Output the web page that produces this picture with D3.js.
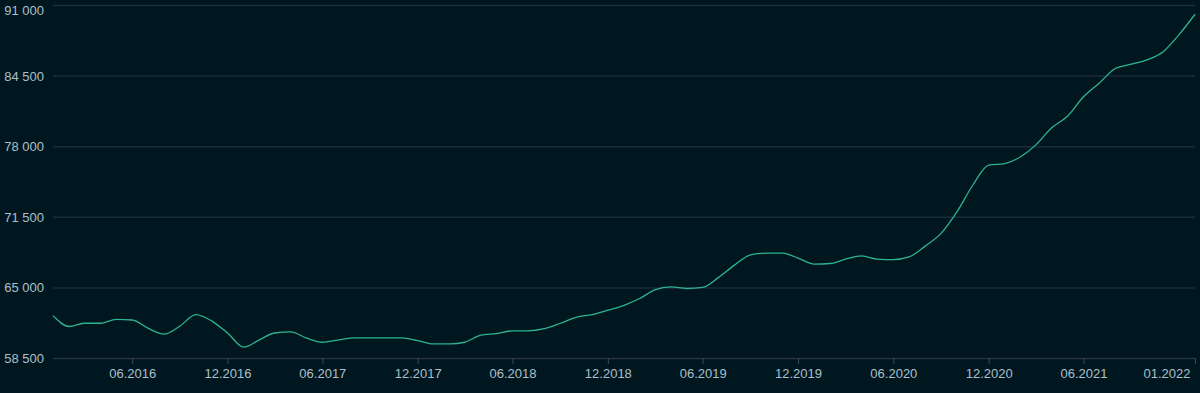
<!DOCTYPE html>
<meta charset="utf-8" />
<script src="https://d3js.org/d3.v7.js"></script>
<style>
  body { margin: 0; background: #011720; }
  svg { display: block; }
  .axis text { font-family: "Liberation Sans", Arial, sans-serif; font-size: 13px; fill: #a9c0cd; }
</style>
<div id="chart"></div>
<script>
  // monthly values, Jan 2016 .. Jan 2022
  const startMonth = "2016-01";
  const values = [
    62400, 61400, 61700, 61700, 62050, 62000, 61250, 60700, 61450, 62500, 61900, 60800,
    59500, 60200, 60800, 60900, 60350, 59950, 60150, 60350, 60350, 60350, 60350, 60100,
    59800, 59800, 59950, 60600, 60750, 61000, 61000, 61200, 61700, 62250, 62500, 62900,
    63350, 64000, 64780, 65050, 64900, 65000, 65900, 67050, 68000, 68150, 68150, 67700,
    67150, 67200, 67600, 67900, 67600, 67550, 67800, 68800, 70000, 71950, 74450, 76250,
    76400, 77050, 78100, 79700, 80750, 82550, 83800, 85150, 85550, 85950, 86700, 88250,
    90150
  ];
  const yTicks = [58500, 65000, 71500, 78000, 84500, 91000];
  const xTickLabels = ["06.2016", "12.2016", "06.2017", "12.2017", "06.2018", "12.2018",
    "06.2019", "12.2019", "06.2020", "12.2020", "06.2021", "01.2022"];

  const W = 1200, H = 393;
  const margin = { top: 5, right: 5, bottom: 35, left: 53 };

  const parseMonth = d3.timeParse("%Y-%m");
  const parseTick = d3.timeParse("%m.%Y");
  const t0 = parseMonth(startMonth);
  const data = values.map((v, i) => ({ date: d3.timeMonth.offset(t0, i), value: v }));

  const x = d3.scaleTime()
    .domain(d3.extent(data, d => d.date))
    .range([margin.left, W - margin.right]);
  const y = d3.scaleLinear()
    .domain([58500, 91000])
    .range([H - margin.bottom, margin.top]);

  const fmt = d3.formatLocale({ decimal: ".", thousands: " ", grouping: [3], currency: ["", ""] }).format(",d");

  const svg = d3.select("#chart").append("svg")
    .attr("width", W)
    .attr("height", H);

  svg.append("rect").attr("width", W).attr("height", H).attr("fill", "#011720");

  // y gridlines + labels
  const yAxis = svg.append("g")
    .attr("class", "axis")
    .attr("transform", `translate(${margin.left},0)`)
    .call(d3.axisLeft(y).tickValues(yTicks).tickFormat(fmt)
      .tickSize(-(W - margin.left - margin.right)).tickPadding(9));
  yAxis.select(".domain").remove();
  yAxis.selectAll("line").attr("stroke", "#1d2c3a").attr("stroke-width", 1.5);
  yAxis.selectAll("text").attr("dy", "0.35em");
  // top label pushed down so it stays inside the frame
  yAxis.selectAll(".tick text").filter(d => d === 91000).attr("y", 5);

  // x axis
  const xAxis = svg.append("g")
    .attr("class", "axis")
    .attr("transform", `translate(0,${H - margin.bottom})`)
    .call(d3.axisBottom(x).tickValues(xTickLabels.map(parseTick))
      .tickFormat(d3.timeFormat("%m.%Y")).tickSize(6).tickSizeOuter(0).tickPadding(5));
  xAxis.select(".domain").attr("stroke", "#24333f");
  xAxis.selectAll("line").attr("stroke", "#3a4a57");
  xAxis.selectAll(".tick:last-of-type text").attr("text-anchor", "end").attr("dx", "-5");

  const line = d3.line()
    .x(d => x(d.date))
    .y(d => y(d.value))
    .curve(d3.curveMonotoneX);

  svg.append("path")
    .datum(data)
    .attr("fill", "none")
    .attr("stroke", "#2db392")
    .attr("stroke-width", 1.3)
    .attr("d", line);
</script>
